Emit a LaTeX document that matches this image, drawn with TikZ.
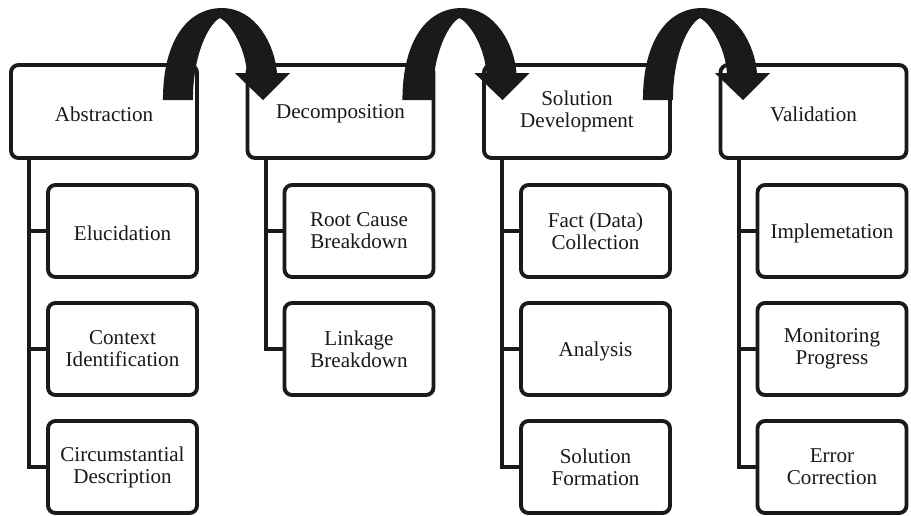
\documentclass[tikz,border=0pt]{standalone}
\usepackage{fontspec}
\setmainfont{Liberation Serif}
\usetikzlibrary{positioning,calc}
\definecolor{inkcolor}{RGB}{26,26,26}
\newcommand{\drawLoop}[1]{%
  \begin{scope}[shift={(#1)}, x=0.02cm, y=0.02cm]
    \fill[inkcolor] (0,0) .. controls (0,60) and (25,92) .. (59,92)
      .. controls (93,92) and (112,55) .. (114,27)
      -- (127,27) -- (100,0) -- (72,27) -- (84,27)
      .. controls (82,55) and (66,78) .. (57,82)
      .. controls (48,78) and (30,50) .. (30,0) -- cycle;
  \end{scope}
}

\begin{document}
\begin{tikzpicture}[font=\fontsize{12}{12.5}\selectfont, text=inkcolor,
  stage/.style={draw=inkcolor, line width=2.2pt, rounded corners=0.15cm, fill=white,
    minimum width=3.72cm, minimum height=1.86cm, align=center, inner sep=2pt,
    execute at begin node={\rule{0pt}{11pt}}},
  task/.style={stage, minimum width=2.98cm, minimum height=1.84cm},
  tree/.style={draw=inkcolor, line width=2.2pt}]

  \useasboundingbox (0,0) rectangle (18.22,-10.30);

  % Stages
  \node[stage] (abs) at (2.08,-2.23)  {Abstraction};
  \node[stage] (dec) at (6.81,-2.23)  {Decomposition};
  \node[stage] (sol) at (11.54,-2.23) {Solution\\Development};
  \node[stage] (val) at (16.27,-2.23) {Validation};

  % Abstraction tasks
  \node[task] (elu) at (2.45,-4.62) {Elucidation};
  \node[task] (ctx) at (2.45,-6.98) {Context\\Identification};
  \node[task] (cir) at (2.45,-9.34) {Circumstantial\\Description};
  % Decomposition tasks
  \node[task] (rcb) at (7.18,-4.62) {Root Cause\\Breakdown};
  \node[task] (lkb) at (7.18,-6.98) {Linkage\\Breakdown};
  % Solution development tasks
  \node[task] (fdc) at (11.91,-4.62) {Fact (Data)\\Collection};
  \node[task] (ana) at (11.91,-6.98) {Analysis};
  \node[task] (sfm) at (11.91,-9.34) {Solution\\Formation};
  % Validation tasks
  \node[task] (imp) at (16.64,-4.62) {Implemetation};
  \node[task] (mon) at (16.64,-6.98) {Monitoring\\Progress};
  \node[task] (erc) at (16.64,-9.34) {Error\\Correction};

  % Tree lines
  \foreach \c in {elu,ctx,cir}
    \draw[tree] ([xshift=0.4cm]abs.south west) |- (\c.west);
  \foreach \c in {rcb,lkb}
    \draw[tree] ([xshift=0.4cm]dec.south west) |- (\c.west);
  \foreach \c in {fdc,ana,sfm}
    \draw[tree] ([xshift=0.4cm]sol.south west) |- (\c.west);
  \foreach \c in {imp,mon,erc}
    \draw[tree] ([xshift=0.4cm]val.south west) |- (\c.west);

  % Curved arrows between stages
  \coordinate (loopA) at ($(abs.north east)+(-0.72,-0.74)$);
  \coordinate (loopB) at ($(dec.north east)+(-0.66,-0.74)$);
  \coordinate (loopC) at ($(sol.north east)+(-0.58,-0.74)$);
  \drawLoop{loopA}
  \drawLoop{loopB}
  \drawLoop{loopC}

\end{tikzpicture}
\end{document}
